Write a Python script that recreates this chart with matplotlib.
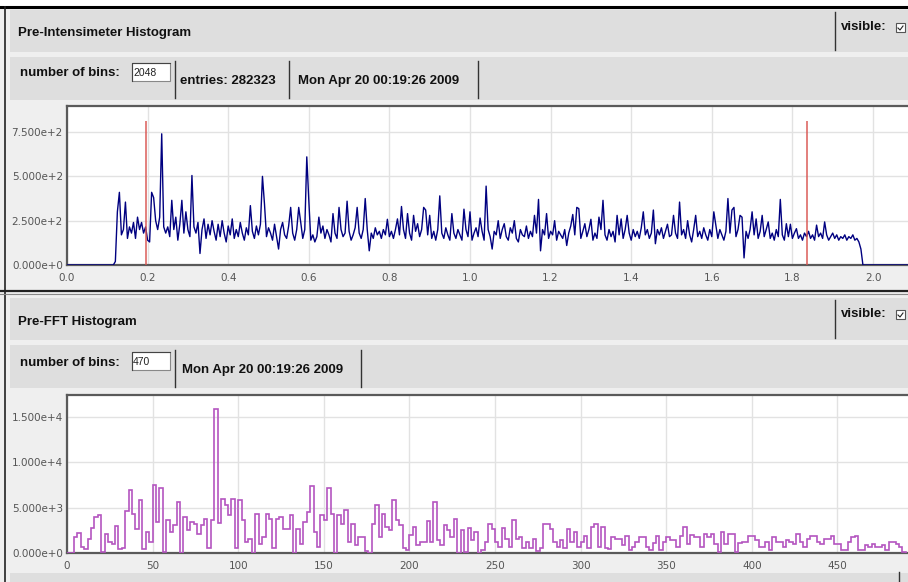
import numpy as np
import matplotlib
matplotlib.use('Agg')
import matplotlib.pyplot as plt
from matplotlib.patches import Rectangle
from matplotlib.ticker import FuncFormatter

W, H = 908, 582

# Pre-Intensimeter histogram, every 0.005 starting at 0.12
int_start = 0.12
int_step = 0.005
int_range = (0.0, 2.2)
int_counts = [
    20, 300, 410, 170, 200, 355, 150, 215, 180, 240, 150, 270, 200, 240, 180, 215, 140, 130, 410, 380,
    250, 200, 270, 740, 215, 180, 215, 160, 365, 200, 270, 140, 230, 365, 180, 300, 200, 160, 505, 215,
    180, 240, 65, 200, 260, 150, 230, 170, 250, 190, 140, 230, 160, 250, 180, 130, 220, 170, 260, 150,
    200, 160, 240, 180, 140, 210, 170, 335, 190, 150, 220, 170, 230, 500, 345, 160, 210, 180, 140, 230,
    160, 90, 200, 240, 170, 150, 220, 325, 180, 140, 200, 325, 240, 150, 200, 610, 365, 140, 170, 130,
    160, 270, 180, 220, 150, 200, 170, 130, 290, 180, 150, 325, 200, 160, 180, 360, 190, 140, 170, 210,
    325, 180, 150, 200, 375, 200, 80, 180, 150, 210, 170, 190, 150, 200, 170, 258, 160, 190, 150, 200,
    260, 170, 330, 200, 150, 290, 180, 140, 280, 190, 233, 160, 200, 325, 310, 170, 280, 150, 190, 140,
    200, 390, 180, 150, 210, 170, 140, 290, 180, 150, 200, 170, 140, 315, 200, 160, 300, 140, 180, 210,
    160, 265, 190, 140, 445, 200, 160, 90, 190, 170, 250, 150, 200, 233, 160, 140, 210, 180, 250, 150,
    130, 200, 170, 160, 220, 150, 190, 160, 280, 180, 370, 80, 200, 170, 290, 150, 190, 170, 250, 140,
    190, 170, 150, 200, 110, 180, 220, 285, 170, 325, 318, 150, 190, 233, 160, 200, 258, 140, 180, 150,
    270, 200, 365, 170, 140, 200, 160, 190, 130, 280, 170, 260, 150, 200, 280, 180, 140, 200, 160, 190,
    150, 210, 300, 170, 200, 150, 180, 310, 120, 200, 170, 210, 150, 190, 230, 160, 170, 280, 180, 150,
    355, 170, 200, 150, 250, 170, 130, 200, 280, 160, 190, 150, 210, 170, 140, 200, 160, 300, 225, 150,
    200, 170, 140, 190, 375, 180, 310, 325, 160, 200, 280, 270, 40, 190, 150, 200, 300, 170, 260, 150,
    190, 280, 160, 200, 243, 150, 180, 140, 200, 160, 370, 170, 140, 233, 160, 230, 150, 180, 205, 150,
    170, 140, 180, 160, 190, 150, 170, 140, 225, 160, 180, 150, 243, 170, 140, 160, 180, 150, 170, 140,
    160, 150, 170, 140, 160, 150, 170, 140, 150, 130, 90, 0,
]
int_markers = [0.195, 1.835]
int_marker_top = 810
int_xticks = [0.0, 0.2, 0.4, 0.6, 0.8, 1.0, 1.2, 1.4, 1.6, 1.8, 2.0]
int_yticks = [0, 250, 500, 750]

# Pre-FFT histogram in steps of 2
fft_step = 2
fft_counts = [
    0, 0, 1800, 2200, 700, 400, 1500, 2800, 4000, 4200,
    100, 2100, 1200, 1000, 3000, 400, 500, 4600, 6900, 4300,
    2700, 5800, 400, 2300, 1200, 7500, 3400, 7200, 100, 3600,
    2300, 3100, 5600, 0, 4000, 2500, 3400, 3200, 2100, 3100,
    3700, 500, 3600, 15850, 3300, 6000, 5300, 4150, 6000, 500,
    5800, 3600, 1200, 1600, 0, 4300, 1000, 1800, 4300, 3800,
    500, 3800, 4000, 2700, 2700, 4150, 0, 2700, 1000, 3400,
    4500, 7350, 2300, 650, 4150, 3600, 7200, 4300, 0, 4150,
    3200, 4800, 1200, 3200, 850, 1800, 1800, 200, 0, 3200,
    5300, 1800, 4300, 2900, 2500, 5900, 3600, 3050, 500, 300,
    1950, 2900, 850, 1200, 1200, 3500, 1200, 5600, 1400, 850,
    3050, 2500, 1800, 3700, 0, 2500, 100, 2750, 1400, 2300,
    0, 300, 1200, 3150, 2700, 1200, 650, 2750, 1600, 650,
    3600, 1600, 1800, 500, 1200, 500, 1600, 200, 500, 3200,
    3200, 2700, 1200, 650, 1400, 500, 2700, 1200, 2300, 650,
    1200, 1900, 500, 2900, 3200, 650, 2850, 500, 480, 1760,
    1580, 1580, 850, 1840, 300, 660, 1200, 1760, 1760, 660,
    300, 1100, 1840, 370, 1200, 1760, 1400, 1400, 660, 1840,
    2850, 1030, 1950, 1760, 1760, 660, 2060, 1760, 2060, 1030,
    110, 2300, 1030, 2060, 2060, 110, 1100, 1200, 1200, 1900,
    1900, 1400, 660, 660, 1200, 300, 1760, 1200, 1200, 660,
    1400, 1200, 950, 2130, 1200, 660, 1580, 1840, 1840, 1200,
    1030, 1580, 1580, 1840, 950, 1030, 300, 300, 1200, 1760,
    1840, 300, 300, 850, 660, 950, 660, 660, 850, 300,
    1200, 1200, 950, 660, 110,
]
fft_xticks = [0, 50, 100, 150, 200, 250, 300, 350, 400, 450]
fft_yticks = [0, 5000, 10000, 15000]

date_text = 'Mon Apr 20 00:19:26 2009'

UI_FONT = 'Liberation Sans'
BAR = '#dedede'
LIGHT = '#efefef'
EDGE = '#333333'


def sci(v, pos):
    if v == 0:
        return '0.000e+0'
    e = int(np.floor(np.log10(abs(v))))
    return '%.3fe+%d' % (v / 10 ** e, e)


fig = plt.figure(figsize=(W / 100, H / 100), dpi=100)
fig.patch.set_facecolor('white')

# background layer in pixel coordinates
bg = fig.add_axes([0, 0, 1, 1], zorder=0)
bg.set_xlim(0, W)
bg.set_ylim(H, 0)
bg.axis('off')


def box(x0, y0, x1, y1, color):
    bg.add_patch(Rectangle((x0, y0), x1 - x0, y1 - y0, facecolor=color, edgecolor='none'))


def sep(x, y0, y1):
    bg.plot([x, x], [y0, y1], color=EDGE, lw=1)


def label(x, y, s, size=9.5, weight='bold'):
    bg.text(x, y, s, fontsize=size, fontweight=weight, family=UI_FONT,
            va='center', ha='left', color='#111111')


def entry(x0, y0, x1, y1, s):
    bg.add_patch(Rectangle((x0, y0), x1 - x0, y1 - y0, facecolor='white', edgecolor='#888888', lw=0.8))
    bg.plot([x0, x0, x1], [y1, y0, y0], color='#444444', lw=0.8)
    bg.text(x0 + 1, (y0 + y1) / 2 + 1, s, fontsize=7.5, family=UI_FONT, va='center', ha='left', color='#222222')


def checkbox(x, y):
    bg.add_patch(Rectangle((x, y), 9, 9, facecolor='white', edgecolor='#555555', lw=0.8))
    bg.plot([x + 2, x + 4, x + 7], [y + 5, y + 7, y + 3], color='#222222', lw=0.8)


box(0, 7, W, H, LIGHT)
bg.plot([0, W], [7, 7], color='black', lw=2.2)
bg.plot([4.5, 4.5], [7, H], color='#222222', lw=1.2)

# top panel
box(10, 10, W, 52, BAR)
box(10, 57, W, 100, BAR)
label(18, 33, 'Pre-Intensimeter Histogram')
sep(835, 12, 50)
label(841, 27, 'visible:')
checkbox(896, 23)
label(20, 73, 'number of bins:')
entry(132, 63, 170, 81, '2048')
sep(175, 61, 98)
label(180, 81, 'entries: 282323')
sep(289, 61, 98)
label(298, 81, date_text)
sep(478, 61, 98)

# divider between panels
bg.plot([0, W], [291, 291], color='#222222', lw=1.6)
bg.plot([0, W], [294, 294], color='#888888', lw=0.8)

# bottom panel
box(10, 298, W, 340, BAR)
box(10, 345, W, 388, BAR)
label(18, 322, 'Pre-FFT Histogram')
sep(835, 300, 338)
label(841, 314, 'visible:')
checkbox(896, 310)
label(20, 363, 'number of bins:')
entry(132, 352, 170, 370, '470')
sep(175, 350, 387)
label(182, 370, date_text)
sep(361, 350, 387)
box(10, 573, W, H, BAR)
sep(899, 572, H)


def style(ax):
    ax.set_facecolor('white')
    ax.grid(True, color='#e2e2e2', lw=1)
    ax.set_axisbelow(True)
    for s in ('top', 'left', 'bottom'):
        ax.spines[s].set_color('#5a5a5a')
        ax.spines[s].set_linewidth(1.6)
    ax.spines['right'].set_visible(False)
    ax.tick_params(length=0, labelsize=7.5, labelcolor='#555555')
    ax.tick_params(axis='x', pad=6)
    ax.tick_params(axis='y', pad=3)
    ax.yaxis.set_major_formatter(FuncFormatter(sci))


def frame(left, top, right, bottom):
    return fig.add_axes([left / W, 1 - bottom / H, (right - left) / W, (bottom - top) / H], zorder=2)


# Pre-Intensimeter plot
ax1 = frame(67, 106, 920, 265)
x1 = int_start + int_step * np.arange(len(int_counts))
ax1.plot(np.r_[int_range[0], int_start - int_step, x1, int_range[1]], np.r_[0, 0, int_counts, 0],
         color='#000080', lw=1.0, zorder=3)
ax1.vlines(int_markers, 0, int_marker_top, color='#d9534f', lw=1.3, alpha=0.8, zorder=4)
ax1.set_xlim(0, 853 / 403)
ax1.set_ylim(0, 897)
ax1.set_xticks(int_xticks)
ax1.set_xticklabels(['%.1f' % t for t in int_xticks])
ax1.set_yticks(int_yticks)
style(ax1)

# Pre-FFT plot
ax2 = frame(67, 395, 920, 553)
edges = fft_step * np.arange(len(fft_counts) + 1)
ax2.stairs(fft_counts, edges, color='#b455c0', lw=1.2, zorder=3)
ax2.set_xlim(0, 853 / 1.712)
ax2.set_ylim(0, 17440)
ax2.set_xticks(fft_xticks)
ax2.set_yticks(fft_yticks)
style(ax2)

fig.savefig('out.png', dpi=100)
